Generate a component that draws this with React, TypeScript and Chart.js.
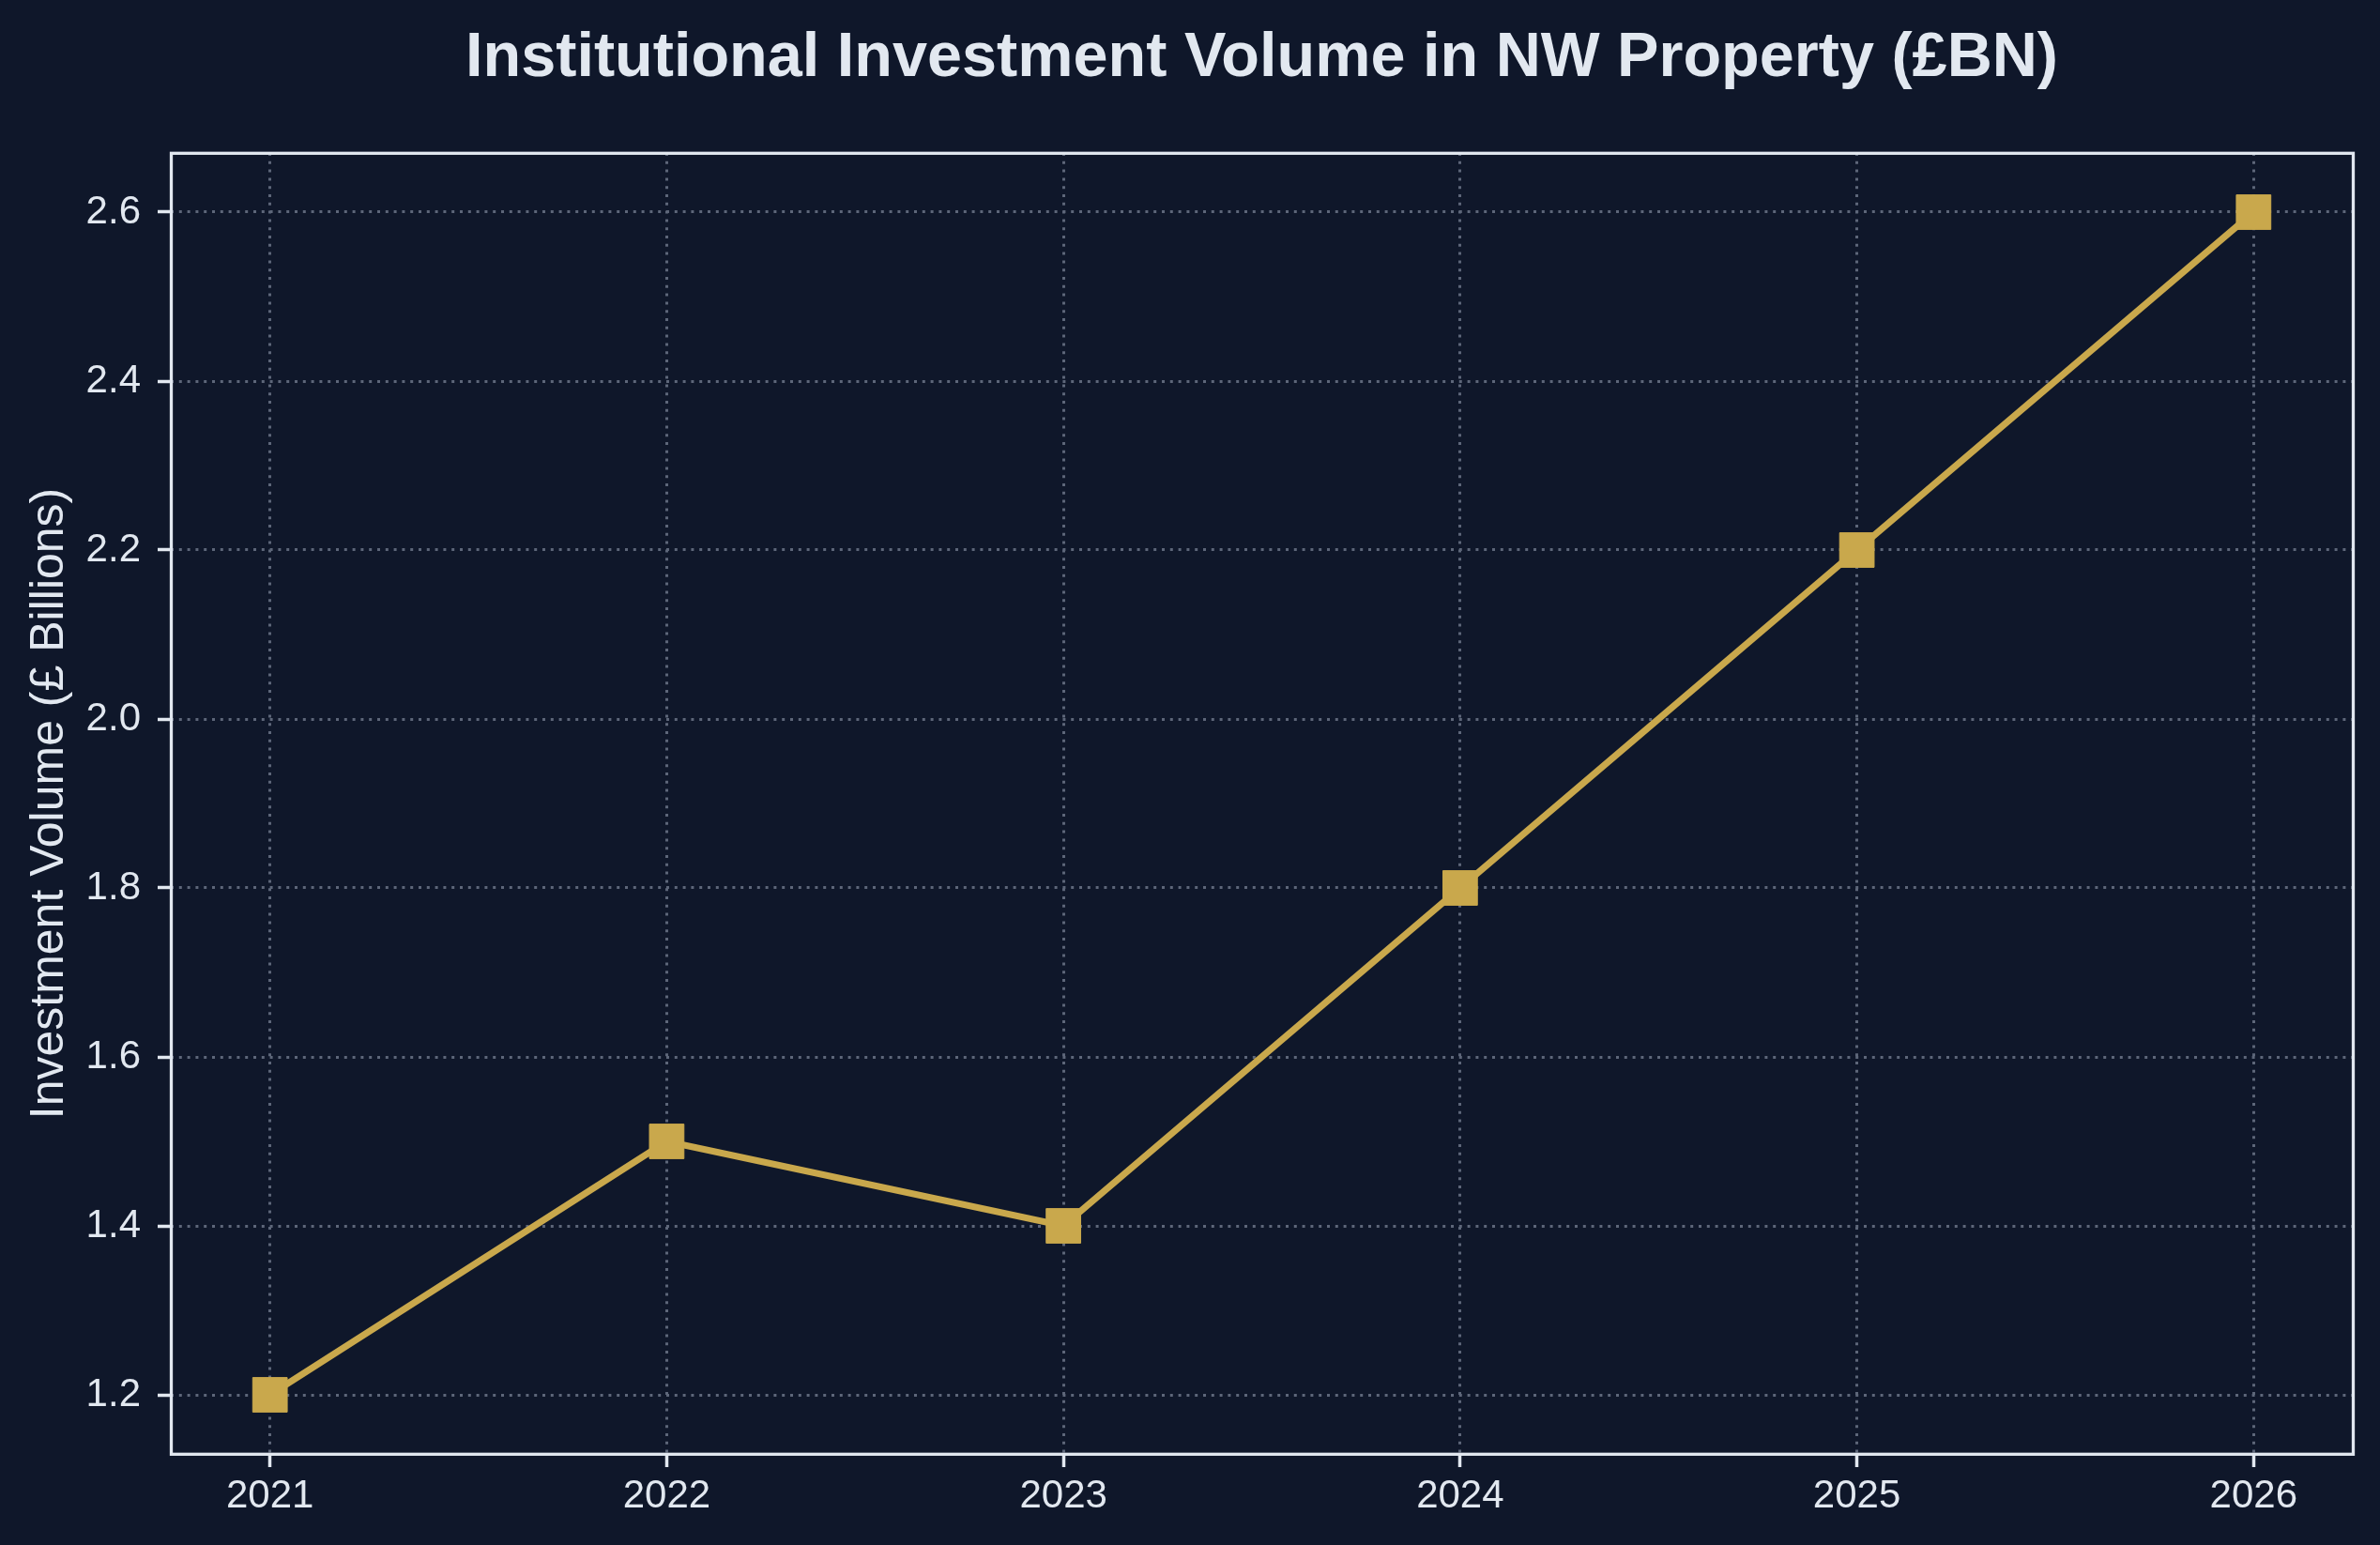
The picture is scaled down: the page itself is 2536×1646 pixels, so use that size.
import React, { useEffect, useRef } from "react";
import { Chart, registerables } from "chart.js";

Chart.register(...registerables);

// ---- data ----
const years = [2021, 2022, 2023, 2024, 2025, 2026];
const investmentVolume = [1.2, 1.5, 1.4, 1.8, 2.2, 2.6];
const chartTitle = "Institutional Investment Volume in NW Property (£BN)";
const yAxisLabel = "Investment Volume (£ Billions)";

// ---- styles ----
const BG = "#0f172a";
const TEXT = "#e2e8f0";
const GOLD = "#c9a84c";
const GRID = "#5d6679";
const FONT = "'Liberation Sans', Arial, sans-serif";

export default function App() {
  const ref = useRef<HTMLCanvasElement>(null);

  useEffect(() => {
    document.body.style.margin = "0";
    document.body.style.background = BG;
    const canvas = ref.current;
    if (!canvas) return;

    const background = {
      id: "bgFill",
      beforeDraw(chart: any) {
        const c = chart.ctx;
        c.save();
        c.fillStyle = BG;
        c.fillRect(0, 0, chart.width, chart.height);
        c.restore();
      },
    };

    const decorations = {
      id: "decorations",
      afterDraw(chart: any) {
        const c = chart.ctx;
        const a = chart.chartArea;
        c.save();
        // frame (spines)
        c.strokeStyle = TEXT;
        c.lineWidth = 3.3;
        c.strokeRect(a.left + 0.5, a.top + 0.3, a.right - a.left, a.bottom - a.top);
        // title
        c.fillStyle = TEXT;
        c.font = `bold 66.6px ${FONT}`;
        c.textAlign = "center";
        c.textBaseline = "alphabetic";
        c.fillText(chartTitle, (a.left + a.right) / 2, 81);
        // y axis label
        c.font = `50px ${FONT}`;
        c.translate(66.5, (a.top + a.bottom) / 2);
        c.rotate(-Math.PI / 2);
        c.fillText(yAxisLabel, 0, 0);
        c.restore();
      },
    };

    const gridOpts = {
      color: GRID,
      lineWidth: 3,
      drawTicks: true,
      tickLength: 14,
      tickColor: TEXT,
      tickWidth: 3.5,
      tickBorderDash: [],
    };
    const borderOpts = { display: false, dash: [3, 5.8], dashOffset: 0 };

    const chart = new Chart(canvas, {
      type: "line",
      data: {
        datasets: [
          {
            data: years.map((y, i) => ({ x: y, y: investmentVolume[i] })),
            borderColor: GOLD,
            backgroundColor: GOLD,
            borderWidth: 7,
            tension: 0,
            pointStyle: "rect",
            pointRadius: 26,
            pointHoverRadius: 26,
            pointBorderWidth: 1,
            pointBorderColor: GOLD,
            pointBackgroundColor: GOLD,
            fill: false,
          },
        ],
      },
      options: {
        responsive: false,
        animation: false,
        devicePixelRatio: 1,
        layout: { padding: { top: 163, right: 29, left: 0, bottom: 0 } },
        plugins: {
          legend: { display: false },
          title: { display: false },
          tooltip: { enabled: false },
        },
        scales: {
          x: {
            type: "linear",
            min: 2020.75,
            max: 2026.25,
            afterFit(scale: any) {
              scale.height = 97;
            },
            border: borderOpts,
            grid: gridOpts,
            ticks: {
              stepSize: 1,
              includeBounds: false,
              autoSkip: false,
              maxRotation: 0,
              minRotation: 0,
              padding: 6,
              color: TEXT,
              font: { family: FONT, size: 42 },
              callback: (v: any) => String(v),
            },
          },
          y: {
            type: "linear",
            min: 1.13,
            max: 2.67,
            afterFit(scale: any) {
              scale.width = 182;
            },
            border: borderOpts,
            grid: gridOpts,
            ticks: {
              stepSize: 0.2,
              includeBounds: false,
              padding: 18,
              color: TEXT,
              font: { family: FONT, size: 42 },
              callback: (v: any) => Number(v).toFixed(1),
            },
          },
        },
      },
      plugins: [background, decorations],
    } as any);

    return () => chart.destroy();
  }, []);

  return (
    <div style={{ position: "absolute", left: 0, top: 0, width: 2536, height: 1646, background: BG }}>
      <canvas ref={ref} width={2536} height={1646} style={{ display: "block", width: 2536, height: 1646 }} />
    </div>
  );
}
